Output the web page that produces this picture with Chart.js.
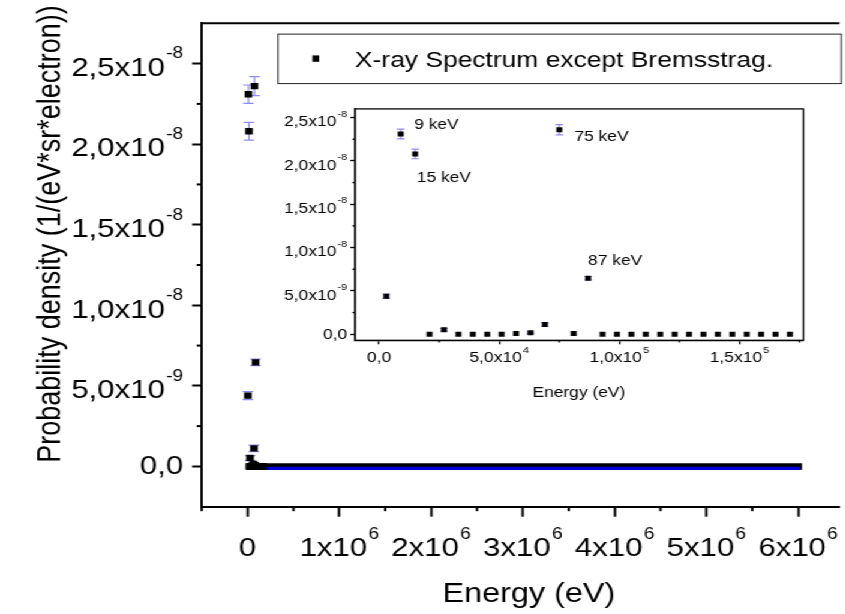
<!DOCTYPE html>
<html lang="en">
<head>
<meta charset="UTF-8">
<script src="https://cdn.jsdelivr.net/npm/chart.js"></script>
<title>X-ray Spectrum</title>
<style>
    html, body { margin: 0; padding: 0; background: #fff; overflow: hidden; }
    /* the original export is stretched sideways, so draw narrow and widen */
    #stage { position: absolute; left: 0; top: 0; width: 704px; height: 614px; transform: scaleX(1.2); transform-origin: 0 0; }
    #mainBox { position: absolute; left: 0; top: 0; width: 704px; height: 614px; }
    #insetBox { position: absolute; left: 220px; top: 90px; width: 470px; height: 320px; }
</style>
</head>
<body>
<div id="stage">
    <div id="mainBox"><canvas id="mainChart"></canvas></div>
    <div id="insetBox"><canvas id="insetChart"></canvas></div>
</div>
<script>
// bin centres (eV), probability density and its error
const energyEv = [3000, 9000, 15000, 21000, 27000, 33000, 39000, 45000, 51000, 57000,
    63000, 69000, 75000, 81000, 87000, 93000, 99000, 105000, 111000, 117000,
    123000, 129000, 135000, 141000, 147000, 153000, 159000, 165000, 171000]
const density = [4.39e-9, 2.31e-8, 2.08e-8, 0, 5.2e-10, 0, 0, 0, 0, 8e-11,
    1.6e-10, 1.12e-9, 2.36e-8, 8e-11, 6.46e-9, 0, 0, 0, 0, 0,
    0, 0, 0, 0, 0, 0, 0, 0, 0]
const densityErr = [2.5e-10, 5.7e-10, 5.5e-10, 0, 1.5e-10, 0, 0, 0, 0, 0,
    1e-10, 2e-10, 5.9e-10, 0, 2e-10, 0, 0, 0, 0, 0,
    0, 0, 0, 0, 0, 0, 0, 0, 0]
// everything else up to 6 MeV sits on zero
const zeroBandEv = [21000, 6000000]

const mainXTicks = [0, 1e6, 2e6, 3e6, 4e6, 5e6, 6e6]
const mainXLabels = ['0', '1x10^6', '2x10^6', '3x10^6', '4x10^6', '5x10^6', '6x10^6']
const mainXMinor = [-5e5, 5e5, 1.5e6, 2.5e6, 3.5e6, 4.5e6, 5.5e6]
const yTicks = [0, 5e-9, 1e-8, 1.5e-8, 2e-8, 2.5e-8]
const yLabels = ['0,0', '5,0x10^-9', '1,0x10^-8', '1,5x10^-8', '2,0x10^-8', '2,5x10^-8']
const yMinor = [2.5e-9, 7.5e-9, 1.25e-8, 1.75e-8, 2.25e-8]

const insetXTicks = [0, 5e4, 1e5, 1.5e5]
const insetXLabels = ['0,0', '5,0x10^4', '1,0x10^5', '1,5x10^5']
const insetXMinor = [2.5e4, 7.5e4, 1.25e5, 1.75e5]

const peakLabels = ['9 keV', '15 keV', '75 keV', '87 keV']
const peakLabelEv = [14600, 15700, 81300, 87000]
const peakLabelY = [2.42e-8, 1.8e-8, 2.28e-8, 8.5e-9]

const FONT = "'Liberation Sans', Arial, sans-serif"
Chart.defaults.font.family = FONT

const points = energyEv.map((x, i) => ({ x: x, y: density[i] }))

function drawSci(ctx, label, x, y, align, font, supFont, rise) {
    const parts = label.split('^')
    ctx.font = font
    const wBase = ctx.measureText(parts[0]).width
    let wSup = 0
    if (parts[1]) {
        ctx.font = supFont
        wSup = ctx.measureText(parts[1]).width + 1
    }
    const total = wBase + wSup
    const x0 = align === 'right' ? x - total : align === 'center' ? x - total / 2 : x
    ctx.textAlign = 'left'
    ctx.textBaseline = 'alphabetic'
    ctx.fillStyle = '#000'
    ctx.font = font
    ctx.fillText(parts[0], x0, y)
    if (parts[1]) {
        ctx.font = supFont
        ctx.fillText(parts[1], x0 + wBase + 1, y - rise)
    }
}

function seg(ctx, x1, y1, x2, y2) {
    ctx.beginPath()
    ctx.moveTo(x1, y1)
    ctx.lineTo(x2, y2)
    ctx.stroke()
}

function errorBars(capHalf) {
    return {
        id: 'errorBars',
        beforeDatasetsDraw(chart) {
            const { ctx, chartArea: a, scales: { x, y } } = chart
            ctx.save()
            ctx.beginPath()
            ctx.rect(a.left, a.top, a.right - a.left, a.bottom - a.top)
            ctx.clip()
            ctx.strokeStyle = '#8c8cf2'
            ctx.lineWidth = 1.2
            energyEv.forEach((ev, i) => {
                const err = densityErr[i]
                if (!err) return
                const px = x.getPixelForValue(ev)
                const top = y.getPixelForValue(density[i] + err)
                const bot = y.getPixelForValue(density[i] - err)
                seg(ctx, px, top, px, bot)
                seg(ctx, px - capHalf, top, px + capHalf, top)
                seg(ctx, px - capHalf, bot, px + capHalf, bot)
            })
            ctx.restore()
        }
    }
}

// nudges the blue band below the black one
const bandShift = {
    id: 'bandShift',
    beforeDatasetDraw(chart, args) {
        if (args.index === 1) { chart.ctx.save(); chart.ctx.translate(0, 2) }
    },
    afterDatasetDraw(chart, args) {
        if (args.index === 1) chart.ctx.restore()
    }
}

const mainDecor = {
    id: 'mainDecor',
    afterDraw(chart) {
        const { ctx, chartArea: a, scales: { x, y } } = chart
        ctx.save()
        ctx.strokeStyle = '#000'
        ctx.lineWidth = 2
        seg(ctx, a.left - 1, a.top, a.right, a.top)
        mainXMinor.forEach(v => {
            const px = x.getPixelForValue(v)
            if (px < a.left - 2 || px > a.right) return
            seg(ctx, px, a.bottom, px, a.bottom + 4.5)
        })
        yMinor.forEach(v => {
            const py = y.getPixelForValue(v)
            seg(ctx, a.left - 4.2, py, a.left, py)
        })
        yTicks.forEach((v, i) => {
            const py = y.getPixelForValue(v)
            const lab = yLabels[i]
            drawSci(ctx, lab, a.left - 15.4, py + (lab.includes('^') ? 12.3 : 7.3), 'right',
                '26px ' + FONT, '16px ' + FONT, 17.5)
        })
        mainXTicks.forEach((v, i) => {
            const px = x.getPixelForValue(v)
            drawSci(ctx, mainXLabels[i], px, a.bottom + 49.3, 'center',
                '26px ' + FONT, '16px ' + FONT, 17.5)
        })
        ctx.fillStyle = '#000'
        ctx.font = '27px ' + FONT
        ctx.textAlign = 'center'
        ctx.textBaseline = 'alphabetic'
        ctx.fillText('Energy (eV)', 440.7, a.bottom + 95.3)
        ctx.save()
        ctx.translate(50, 234)
        ctx.rotate(-Math.PI / 2)
        ctx.fillText('Probability density (1/(eV*sr*electron))', 0, 0)
        ctx.restore()
        // legend
        ctx.strokeStyle = '#222'
        ctx.lineWidth = 1
        ctx.strokeRect(231.7, 34.1, 469.4, 49.5)
        ctx.fillRect(260.4, 55.4, 5.6, 6.4)
        ctx.font = '22px ' + FONT
        ctx.textAlign = 'left'
        ctx.fillText('X-ray Spectrum except Bremsstrag.', 295.8, 66.6)
        ctx.restore()
    }
}

const insetDecor = {
    id: 'insetDecor',
    afterDraw(chart) {
        const { ctx, chartArea: a, scales: { x, y } } = chart
        ctx.save()
        ctx.strokeStyle = '#000'
        ctx.lineWidth = 1.3
        ctx.strokeRect(a.left, a.top, a.right - a.left, a.bottom - a.top)
        insetXMinor.forEach(v => {
            const px = x.getPixelForValue(v)
            if (px > a.right) return
            seg(ctx, px, a.bottom, px, a.bottom + 2.3)
        })
        yMinor.forEach(v => {
            const py = y.getPixelForValue(v)
            seg(ctx, a.left - 2.2, py, a.left, py)
        })
        yTicks.forEach((v, i) => {
            const py = y.getPixelForValue(v)
            const lab = yLabels[i]
            drawSci(ctx, lab, a.left - 6.6, py + (lab.includes('^') ? 8.7 : 5.2), 'right',
                '14.5px ' + FONT, '9px ' + FONT, 9.5)
        })
        insetXTicks.forEach((v, i) => {
            const px = x.getPixelForValue(v)
            drawSci(ctx, insetXLabels[i], px, a.bottom + 21.7, 'center',
                '14.5px ' + FONT, '9px ' + FONT, 9)
        })
        ctx.fillStyle = '#000'
        ctx.font = '14.5px ' + FONT
        ctx.textAlign = 'center'
        ctx.fillText('Energy (eV)', 262.4, a.bottom + 56.7)
        ctx.textAlign = 'left'
        ctx.textBaseline = 'middle'
        peakLabels.forEach((t, i) => {
            ctx.fillText(t, x.getPixelForValue(peakLabelEv[i]), y.getPixelForValue(peakLabelY[i]))
        })
        ctx.restore()
    }
}

function axisStyle(tickLen, width) {
    return {
        grid: { display: true, drawOnChartArea: false, drawTicks: true, tickLength: tickLen,
            tickColor: '#000', tickWidth: width },
        border: { display: true, color: '#000', width: width },
        ticks: { display: false }
    }
}

new Chart(document.getElementById('mainChart'), {
    type: 'scatter',
    data: {
        datasets: [
            { data: points, pointStyle: 'rect', pointRadius: 4.5, backgroundColor: '#000',
              borderWidth: 0 },
            { data: zeroBandEv.map(v => ({ x: v, y: 0 })), showLine: true, pointRadius: 0,
              borderColor: '#0000d6', borderWidth: 3.3, borderCapStyle: 'square' },
            { data: zeroBandEv.map(v => ({ x: v, y: 0 })), showLine: true, pointRadius: 0,
              borderColor: '#000', borderWidth: 6.5, borderCapStyle: 'square' }
        ]
    },
    options: {
        responsive: true,
        maintainAspectRatio: false,
        animation: false,
        layout: { padding: { left: 160.1, top: 23.3, right: 0, bottom: 97.3 } },
        plugins: { legend: { display: false }, tooltip: { enabled: false } },
        scales: {
            x: Object.assign(axisStyle(10, 2), { min: -5e5, max: 6.45e6,
                afterBuildTicks: axis => { axis.ticks = mainXTicks.map(v => ({ value: v })) } }),
            y: Object.assign(axisStyle(8, 2), { min: -2.5e-9, max: 2.75e-8,
                afterBuildTicks: axis => { axis.ticks = yTicks.map(v => ({ value: v })) } })
        }
    },
    plugins: [errorBars(4.4), bandShift, mainDecor]
})

new Chart(document.getElementById('insetChart'), {
    type: 'scatter',
    data: {
        datasets: [
            { data: points, pointStyle: 'rect', pointRadius: 3.5, backgroundColor: '#000',
              borderWidth: 0 }
        ]
    },
    options: {
        responsive: true,
        maintainAspectRatio: false,
        animation: false,
        layout: { padding: { left: 71.9, top: 18.9, right: 20.5, bottom: 65.7 } },
        plugins: { legend: { display: false }, tooltip: { enabled: false } },
        scales: {
            x: Object.assign(axisStyle(4, 1.3), { min: -10000, max: 176600,
                afterBuildTicks: axis => { axis.ticks = insetXTicks.map(v => ({ value: v })) } }),
            y: Object.assign(axisStyle(4, 1.3), { min: -7e-10, max: 2.6e-8,
                afterBuildTicks: axis => { axis.ticks = yTicks.map(v => ({ value: v })) } })
        }
    },
    plugins: [errorBars(3.2), insetDecor]
})
</script>
</body>
</html>
